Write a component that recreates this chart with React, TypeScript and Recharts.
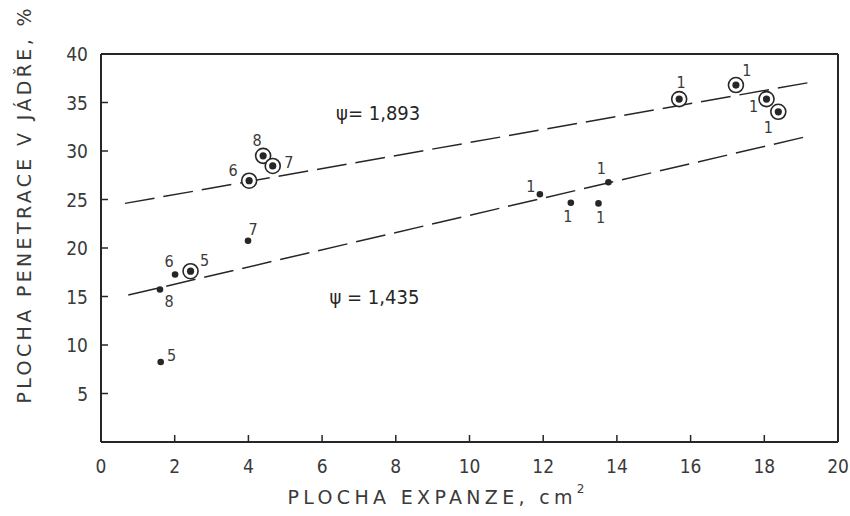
import { ComposedChart, XAxis, YAxis, Scatter, ReferenceLine, ReferenceDot } from 'recharts';

const INK = '#262626';
const SOFT = '#3a3a3a';
const FONT = '"DejaVu Sans Condensed", "Liberation Sans Narrow", "Open Sans", sans-serif';
const TITLE_FONT = '"DejaVu Sans", "Open Sans", sans-serif';

// circled points
const RING_X = [4.02, 4.4, 4.66, 15.69, 17.23, 18.06, 18.38, 2.43];
const RING_Y = [26.94, 29.5, 28.46, 35.35, 36.8, 35.35, 34.04, 17.61];
const RING_LABELS = ['6', '8', '7', '1', '1', '1', '1', '5'];

// plain dots
const DOT_X = [1.6, 2.01, 3.99, 1.62, 11.91, 12.75, 13.5, 13.77];
const DOT_Y = [15.72, 17.27, 20.74, 8.24, 25.54, 24.67, 24.6, 26.78];
const DOT_LABELS = ['8', '6', '7', '5', '1', '1', '1', '1'];

// dashed fit lines (end points)
const UPPER_FIT_X = [0.65, 19.24];
const UPPER_FIT_Y = [24.6, 37.07];
const LOWER_FIT_X = [0.74, 19.15];
const LOWER_FIT_Y = [15.15, 31.49];

const X_TICKS = [0, 2, 4, 6, 8, 10, 12, 14, 16, 18, 20];
const Y_TICKS = [5, 10, 15, 20, 25, 30, 35, 40];

const UPPER_NOTE = 'ψ= 1,893';
const LOWER_NOTE = 'ψ = 1,435';

// where each number sits next to its marker (px from the marker centre)
const RING_NUDGE = [[-16, -10], [-6, -15], [16, -3], [2, -17], [11, -15], [-13, 7], [-10, 16], [14, -11]];
const DOT_NUDGE = [[9, 12], [-6, -13], [5, -11], [11, -7], [-9, -8], [-3, 14], [2, 14], [-7, -14]];

const ringData = RING_X.map((x, i) => ({ x, y: RING_Y[i], label: RING_LABELS[i], i }));
const dotData = DOT_X.map((x, i) => ({ x, y: DOT_Y[i], label: DOT_LABELS[i], i }));
const upperFit = UPPER_FIT_X.map((x, i) => ({ x, y: UPPER_FIT_Y[i] }));
const lowerFit = LOWER_FIT_X.map((x, i) => ({ x, y: LOWER_FIT_Y[i] }));

const numStyle = { fontFamily: FONT, fontSize: 16, fill: SOFT };

function RingShape(props: any) {
    const { cx, cy, payload } = props;
    const [dx, dy] = RING_NUDGE[payload.i];
    return (
        <g>
            <circle cx={cx} cy={cy} r={7.5} fill="#fff" stroke={INK} strokeWidth={1.6} />
            <circle cx={cx} cy={cy} r={3.6} fill={INK} />
            <text x={cx + dx} y={cy + dy} textAnchor="middle" dominantBaseline="central" style={numStyle}>
                {payload.label}
            </text>
        </g>
    );
}

function DotShape(props: any) {
    const { cx, cy, payload } = props;
    const [dx, dy] = DOT_NUDGE[payload.i];
    return (
        <g>
            <circle cx={cx} cy={cy} r={3.3} fill={INK} />
            <text x={cx + dx} y={cy + dy} textAnchor="middle" dominantBaseline="central" style={numStyle}>
                {payload.label}
            </text>
        </g>
    );
}

function XTick(props: any) {
    const { x, y, payload } = props;
    const v = payload.value;
    return (
        <g>
            {v !== 0 && v !== 20 && <line x1={x} x2={x} y1={y} y2={y - 7} stroke={INK} strokeWidth={1.5} />}
            <text x={x} y={y + 24} textAnchor="middle" dominantBaseline="central"
                style={{ fontFamily: FONT, fontSize: 19, fill: SOFT }}>
                {v}
            </text>
        </g>
    );
}

function YTick(props: any) {
    const { x, y, payload } = props;
    const v = payload.value;
    return (
        <g>
            {v !== 40 && <line x1={x} x2={x + 7} y1={y} y2={y} stroke={INK} strokeWidth={1.5} />}
            <text x={x - 13} y={y} textAnchor="end" dominantBaseline="central"
                style={{ fontFamily: FONT, fontSize: 19, fill: SOFT }}>
                {v}
            </text>
        </g>
    );
}

function note(text: string) {
    return (props: any) => {
        const { viewBox } = props;
        return (
            <text x={viewBox.x} y={viewBox.y} dominantBaseline="central"
                style={{ fontFamily: FONT, fontSize: 20, fill: INK }}>
                {text}
            </text>
        );
    };
}

export default function App() {
    return (
        <div style={{ position: 'absolute', left: 0, top: 0, width: 850, height: 516, background: '#fff' }}>
            <ComposedChart width={850} height={516} margin={{ top: 54, right: 12, bottom: 0, left: 0 }}>
                <XAxis
                    type="number"
                    dataKey="x"
                    domain={[0, 20]}
                    ticks={X_TICKS}
                    interval={0}
                    height={74}
                    tickSize={0}
                    tickMargin={0}
                    tick={XTick}
                    axisLine={{ stroke: INK, strokeWidth: 2 }}
                    label={{
                        content: () => (
                            <text x={436} y={497} textAnchor="middle" dominantBaseline="central"
                                textLength={297} lengthAdjust="spacing"
                                style={{ fontFamily: TITLE_FONT, fontSize: 19, fill: SOFT }}>
                                PLOCHA EXPANZE,  cm
                                <tspan dy={-8} style={{ fontSize: 12 }}>2</tspan>
                            </text>
                        ),
                    }}
                />
                <YAxis
                    type="number"
                    dataKey="y"
                    domain={[0, 40]}
                    ticks={Y_TICKS}
                    interval={0}
                    width={101}
                    tickSize={0}
                    tickMargin={0}
                    tick={YTick}
                    axisLine={{ stroke: INK, strokeWidth: 2 }}
                    label={{
                        content: () => (
                            <text x={24} y={206} textAnchor="middle" dominantBaseline="central"
                                transform="rotate(-90 24 206)" textLength={395} lengthAdjust="spacing"
                                style={{ fontFamily: TITLE_FONT, fontSize: 19, fill: SOFT }}>
                                PLOCHA PENETRACE V JÁDŘE, %
                            </text>
                        ),
                    }}
                />
                <ReferenceLine y={40} stroke={INK} strokeWidth={2} />
                <ReferenceLine x={20} stroke={INK} strokeWidth={2} />
                <ReferenceLine segment={upperFit} stroke={INK} strokeWidth={1.5} strokeDasharray="30 9" />
                <ReferenceLine segment={lowerFit} stroke={INK} strokeWidth={1.5} strokeDasharray="30 9" />
                <ReferenceDot x={6.38} y={33.9} r={0} stroke="none" fill="none" label={note(UPPER_NOTE)} />
                <ReferenceDot x={6.2} y={15.0} r={0} stroke="none" fill="none" label={note(LOWER_NOTE)} />
                <Scatter data={dotData} shape={DotShape} isAnimationActive={false} />
                <Scatter data={ringData} shape={RingShape} isAnimationActive={false} />
            </ComposedChart>
        </div>
    );
}
